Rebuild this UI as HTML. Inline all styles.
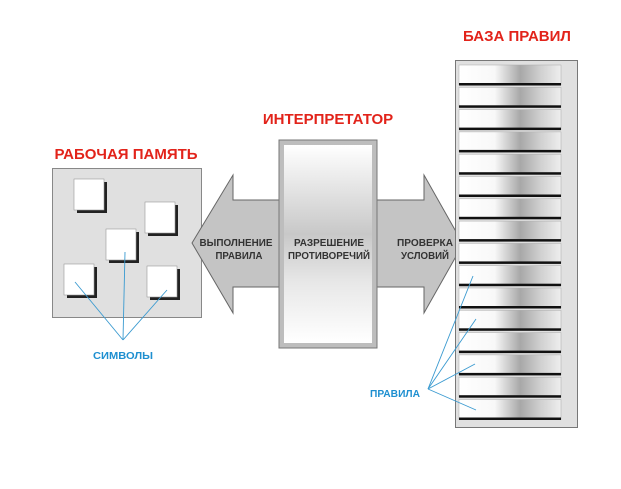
<!DOCTYPE html>
<html><head><meta charset="utf-8"><style>
html,body{margin:0;padding:0;background:#fff;}
svg{display:block;}
text{font-family:"Liberation Sans",sans-serif;font-weight:bold;}
</style></head><body>
<svg width="621" height="489" viewBox="0 0 621 489" xmlns="http://www.w3.org/2000/svg">
<defs>
<linearGradient id="row" x1="0" x2="1" y1="0" y2="0">
<stop offset="0" stop-color="#fff"/><stop offset="0.35" stop-color="#f8f8f8"/><stop offset="0.6" stop-color="#a8a8a8"/><stop offset="0.8" stop-color="#d0d0d0"/><stop offset="1" stop-color="#eeeeee"/>
</linearGradient>
<linearGradient id="col" x1="0" x2="0" y1="0" y2="1">
<stop offset="0" stop-color="#fff"/><stop offset="0.45" stop-color="#c8c8c8"/><stop offset="0.7" stop-color="#e8e8e8"/><stop offset="1" stop-color="#fff"/>
</linearGradient>
</defs>
<text x="126" y="159" font-size="15" fill="#e2231a" text-anchor="middle">РАБОЧАЯ ПАМЯТЬ</text>
<text x="328" y="124" font-size="15" fill="#e2231a" text-anchor="middle">ИНТЕРПРЕТАТОР</text>
<text x="517" y="41" font-size="15" fill="#e2231a" text-anchor="middle">БАЗА ПРАВИЛ</text>

<rect x="52.5" y="168.5" width="149" height="149" fill="#e0e0e0" stroke="#888"/>
<g fill="#fff" stroke="#999" stroke-width="0.6">
<rect x="77" y="182" width="30" height="31" fill="#222" stroke="none"/><rect x="74" y="179" width="30" height="31"/>
<rect x="148" y="205" width="30" height="31" fill="#222" stroke="none"/><rect x="145" y="202" width="30" height="31"/>
<rect x="109" y="232" width="30" height="31" fill="#222" stroke="none"/><rect x="106" y="229" width="30" height="31"/>
<rect x="67" y="267" width="30" height="31" fill="#222" stroke="none"/><rect x="64" y="264" width="30" height="31"/>
<rect x="150" y="269" width="30" height="31" fill="#222" stroke="none"/><rect x="147" y="266" width="30" height="31"/>
</g>

<polygon points="192,243 233,175 233,200 424,200 424,175 463,244 424,313 424,287 233,287 233,313" fill="#c4c4c4" stroke="#666" stroke-width="1"/>
<rect x="279" y="140" width="98" height="208" fill="#bdbdbd" stroke="#777"/>
<rect x="284" y="145" width="88" height="198" fill="url(#col)"/>

<g font-size="10.5" fill="#333" text-anchor="middle" lengthAdjust="spacingAndGlyphs">
<text x="236" y="246" textLength="73" lengthAdjust="spacingAndGlyphs">ВЫПОЛНЕНИЕ</text><text x="239" y="259" textLength="47" lengthAdjust="spacingAndGlyphs">ПРАВИЛА</text>
<text x="329" y="246" textLength="70" lengthAdjust="spacingAndGlyphs">РАЗРЕШЕНИЕ</text><text x="329" y="259" textLength="82" lengthAdjust="spacingAndGlyphs">ПРОТИВОРЕЧИЙ</text>
<text x="425" y="246" textLength="56" lengthAdjust="spacingAndGlyphs">ПРОВЕРКА</text><text x="425" y="259" textLength="48" lengthAdjust="spacingAndGlyphs">УСЛОВИЙ</text>
</g>

<rect x="455.5" y="60.5" width="122" height="367" fill="#e0e0e0" stroke="#777"/>
<g id="rows">
<rect x="459" y="65" width="102" height="20" fill="url(#row)" stroke="#aaa" stroke-width="0.5"/><rect x="459" y="83" width="102" height="2.5" fill="#111"/>
</g>
<use href="#rows" y="22.3"/><use href="#rows" y="44.6"/><use href="#rows" y="66.9"/><use href="#rows" y="89.2"/>
<use href="#rows" y="111.5"/><use href="#rows" y="133.8"/><use href="#rows" y="156.1"/><use href="#rows" y="178.4"/>
<use href="#rows" y="200.7"/><use href="#rows" y="223"/><use href="#rows" y="245.3"/><use href="#rows" y="267.6"/>
<use href="#rows" y="289.9"/><use href="#rows" y="312.2"/><use href="#rows" y="334.5"/>

<g stroke="#3a9ad0" stroke-width="0.9" fill="none">
<line x1="123" y1="340" x2="75" y2="282"/><line x1="123" y1="340" x2="125" y2="252"/><line x1="123" y1="340" x2="167" y2="290"/>
<line x1="428" y1="389" x2="473" y2="276"/><line x1="428" y1="389" x2="476" y2="319"/><line x1="428" y1="389" x2="475" y2="364"/><line x1="428" y1="389" x2="476" y2="410"/>
</g>
<text x="123" y="359" font-size="10.5" fill="#1e8fd0" text-anchor="middle" textLength="60" lengthAdjust="spacingAndGlyphs">СИМВОЛЫ</text>
<text x="395" y="397" font-size="10.5" fill="#1e8fd0" text-anchor="middle" textLength="50" lengthAdjust="spacingAndGlyphs">ПРАВИЛА</text>
</svg>
</body></html>
